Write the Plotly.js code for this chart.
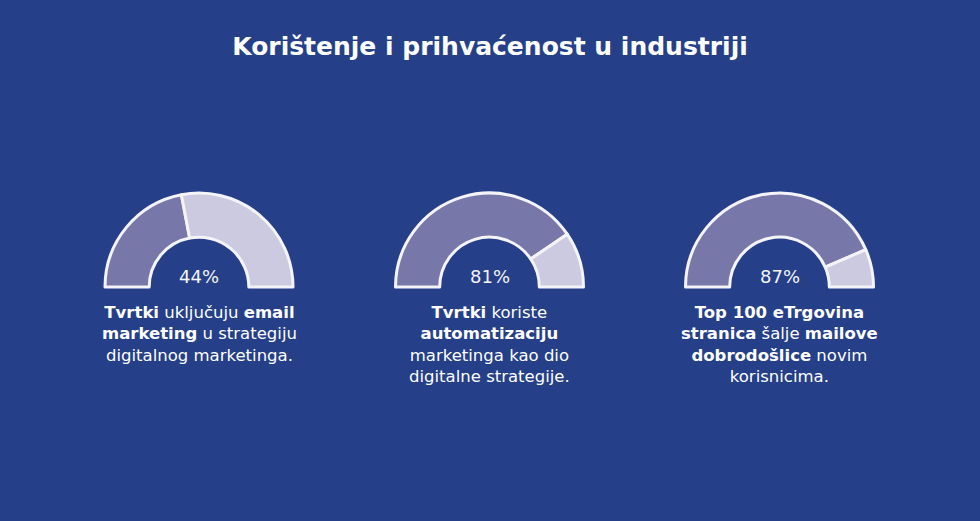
<!DOCTYPE html>
<html>
<head>
<meta charset="utf-8">
<script src="https://cdn.plot.ly/plotly-3.0.1.min.js"></script>
<style>html,body{margin:0;padding:0;background:#253f89;}#chart{width:980px;height:521px;}</style>
</head>
<body>
<div id="chart"></div>
<script>
// ---- data ----
const titleText = "Korištenje i prihvaćenost u industriji";
const adopted = [44, 81, 87];
const notAdopted = [56, 19, 13];
const pctLabels = ["44%", "81%", "87%"];
const descriptions = [
  "<b>Tvrtki</b> uključuju <b>email</b><br><b>marketing</b> u strategiju<br>digitalnog marketinga.",
  "<b>Tvrtki</b> koriste<br><b>automatizaciju</b><br>marketinga kao dio<br>digitalne strategije.",
  "<b>Top 100 eTrgovina</b><br><b>stranica</b> šalje <b>mailove</b><br><b>dobrodošlice</b> novim<br>korisnicima."
];

// ---- layout constants ----
const W = 980, H = 521;
const centersX = [199, 489.5, 779.5];
const centerY = 287; // from top, px
const R = 94;
const FONT = "'DejaVu Sans', sans-serif";

const traces = [];
const annotations = [];
for (let i = 0; i < adopted.length; i++) {
  const cx = centersX[i];
  const cyB = H - centerY;
  traces.push({
    type: 'pie',
    values: [adopted[i], notAdopted[i], adopted[i] + notAdopted[i]],
    labels: ['a', 'b', 'c'],
    sort: false,
    direction: 'clockwise',
    rotation: 270,
    hole: 0.53,
    textinfo: 'none',
    hoverinfo: 'skip',
    showlegend: false,
    marker: {
      colors: ['#7877a9', '#cbcae0', 'rgba(0,0,0,0)'],
      line: {color: ['#f4f4f8', '#f4f4f8', 'rgba(0,0,0,0)'], width: 3}
    },
    domain: {x: [(cx - R) / W, (cx + R) / W], y: [(cyB - R) / H, (cyB + R) / H]}
  });
  annotations.push({
    text: pctLabels[i], xref: 'paper', yref: 'paper',
    x: cx / W, y: (H - 289) / H, xanchor: 'center', yanchor: 'bottom',
    showarrow: false, font: {family: FONT, size: 18, color: '#f4f4f8', weight: 400}
  });
  annotations.push({
    text: descriptions[i], xref: 'paper', yref: 'paper',
    x: cx / W, y: (H - 301) / H, xanchor: 'center', yanchor: 'top', align: 'center',
    showarrow: false, font: {family: FONT, size: 16.5, color: '#ffffff'}
  });
}

const layout = {
  width: W, height: H,
  margin: {l: 0, r: 0, t: 0, b: 0},
  paper_bgcolor: '#253f89',
  plot_bgcolor: '#253f89',
  title: {text: titleText, x: 0.5, xanchor: 'center', y: 1 - 46 / H, yanchor: 'middle',
          font: {family: FONT, size: 25, color: '#ffffff', weight: 700}},
  annotations: annotations
};

Plotly.newPlot('chart', traces, layout, {displayModeBar: false, staticPlot: true});
</script>
</body>
</html>
